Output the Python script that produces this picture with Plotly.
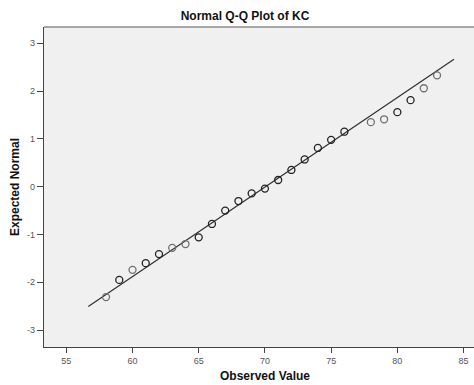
import plotly.graph_objects as go

# Data
observed = [58, 59, 60, 61, 62, 63, 64, 65, 66, 67, 68, 69, 70, 71, 72, 73,
            74, 75, 76, 78, 79, 80, 81, 82, 83]
expected = [-2.31, -1.95, -1.74, -1.60, -1.41, -1.28, -1.20, -1.06, -0.78,
            -0.50, -0.30, -0.14, -0.04, 0.14, 0.35, 0.57, 0.81, 0.98, 1.15,
            1.35, 1.41, 1.56, 1.81, 2.06, 2.33]
n_cases = [1, 2, 1, 2, 2, 1, 1, 2, 2, 2, 2, 2, 2, 2, 2, 2,
           2, 2, 2, 1, 1, 2, 2, 1, 1]

mean_kc = 70.05
sd_kc = 5.34
line_x = [56.66, 84.28]
line_y = [(v - mean_kc) / sd_kc for v in line_x]

x_ticks = [55, 60, 65, 70, 75, 80, 85]
y_ticks = [-3, -2, -1, 0, 1, 2, 3]
y_labels = ["-3", "-2", "-1", "0", "1", "2", "3"]

W, H = 474, 385
FONT = "Liberation Sans, Arial, sans-serif"

colors = ["#222222" if c > 1 else "#6f6f6f" for c in n_cases]

fig = go.Figure()
fig.add_trace(go.Scatter(x=line_x, y=line_y, mode="lines",
                         line=dict(color="#303030", width=1.2),
                         hoverinfo="skip", showlegend=False))
fig.add_trace(go.Scatter(x=observed, y=expected, mode="markers",
                         marker=dict(symbol="circle-open", size=7,
                                     color=colors, line=dict(width=1.3)),
                         showlegend=False))

fig.update_layout(
    width=W, height=H,
    margin=dict(l=44, r=0, t=27, b=38),
    paper_bgcolor="white",
    plot_bgcolor="#f0f0f0",
    font=dict(family=FONT, size=10, color="#333333"),
    title=dict(text="<b>Normal Q-Q Plot of KC</b>", xref="container", yref="container",
               x=245 / W, y=1 - 16 / H, xanchor="center", yanchor="middle",
               font=dict(family=FONT, size=12, color="#111111")),
    xaxis=dict(range=[53.316, 85.79], tickvals=x_ticks, showgrid=False,
               zeroline=False, showline=True, linecolor="#444444", linewidth=1.3,
               ticks="outside", ticklen=5, tickcolor="#444444",
               tickfont=dict(size=9, color="#555555")),
    yaxis=dict(range=[-3.354, 3.341], tickvals=y_ticks, ticktext=y_labels,
               showgrid=False,
               zeroline=False, showline=True, linecolor="#444444", linewidth=1.3,
               ticks="outside", ticklen=6, tickcolor="#444444",
               tickfont=dict(size=9, color="#555555")),
    shapes=[dict(type="line", xref="paper", yref="paper", x0=0, x1=1, y0=1, y1=1,
                 line=dict(color="#8c8c8c", width=1.3))],
    annotations=[
        dict(text="<b>Observed Value</b>", xref="paper", yref="paper",
             x=(265 - 44) / (W - 44), y=-(376 - 347) / (347 - 27),
             xanchor="center", yanchor="middle", showarrow=False,
             font=dict(family=FONT, size=12, color="#111111")),
        dict(text="<b>Expected Normal</b>", xref="paper", yref="paper",
             x=-(44 - 15) / (W - 44), y=0.5, textangle=-90,
             xanchor="center", yanchor="middle", showarrow=False,
             font=dict(family=FONT, size=12, color="#111111")),
    ],
)

fig.write_html("out.html", config={"displayModeBar": False},
               post_script="document.body.style.margin='0';document.body.style.overflow='hidden';")
